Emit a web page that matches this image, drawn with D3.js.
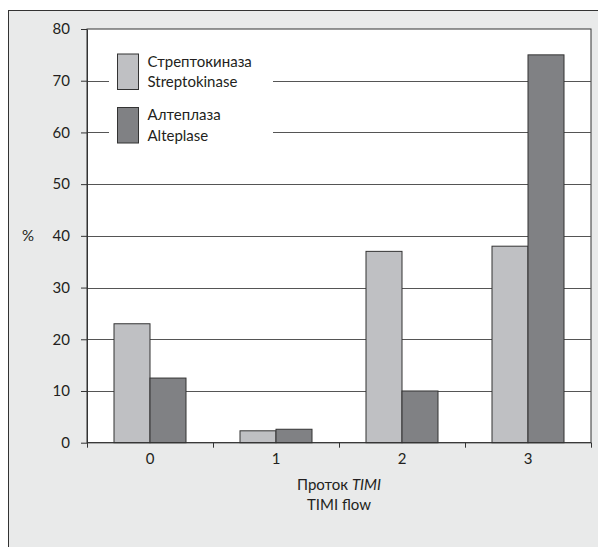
<!DOCTYPE html>
<html>
<head>
<meta charset="utf-8">
<script src="https://cdn.jsdelivr.net/npm/d3@7"></script>
<style>
  body { margin: 0; padding: 0; background: #fff; }
  svg { display: block; }
  text { font-family: Lato, "Open Sans", sans-serif; fill: #231f20; }
</style>
</head>
<body>
<svg id="chart" width="598" height="547"></svg>
<script>
const categories = ["0", "1", "2", "3"];
const seriesNames = ["Стрептокиназа|Streptokinase", "Алтеплаза|Alteplase"];
const streptokinase = [23, 2.3, 37, 38];
const alteplase = [12.5, 2.6, 10, 75];
const yTicks = [0, 10, 20, 30, 40, 50, 60, 70, 80];

const colors = ["#bfc0c3", "#808184"];
const FONT = 'Lato, "Open Sans", sans-serif';
const FS = 15;
const svg = d3.select("#chart");

// outer frame
svg.append("rect").attr("x", 8.5).attr("y", 10.5).attr("width", 620).attr("height", 560)
  .attr("fill", "#e9eaea").attr("stroke", "#333").attr("stroke-width", 1);

const L = 87, R = 591, T = 29, B = 442.7;
svg.append("rect").attr("x", L).attr("y", T).attr("width", R - L).attr("height", B - T)
  .attr("fill", "#fff").attr("stroke", "#333").attr("stroke-width", 1);

const x = d3.scaleBand().domain(categories).range([L, R]).paddingInner(0).paddingOuter(0);
const y = d3.scaleLinear().domain([0, 80]).range([B, T]);
const sub = d3.scaleBand().domain([0, 1]).range([0, 72]);

// gridlines
svg.append("g").selectAll("line").data(yTicks.filter(d => d > 0 && d < 80)).join("line")
  .attr("x1", L).attr("x2", R).attr("y1", d => Math.round(y(d)) + 0.5).attr("y2", d => Math.round(y(d)) + 0.5)
  .attr("stroke", "#555").attr("stroke-width", 1);

// legend background
svg.append("rect").attr("x", 109).attr("y", 45).attr("width", 164).attr("height", 108).attr("fill", "#fff");

// bars
const data = categories.map((c, i) => ({ c, vals: [streptokinase[i], alteplase[i]] }));
const g = svg.append("g");
data.forEach(d => {
  d.vals.forEach((v, j) => {
    g.append("rect")
      .attr("x", x(d.c) + x.bandwidth() / 2 - 36 + sub(j))
      .attr("y", y(v))
      .attr("width", sub.bandwidth())
      .attr("height", y(0) - y(v))
      .attr("fill", colors[j]).attr("stroke", "#333").attr("stroke-width", 1);
  });
});

// y axis
const yAxis = d3.axisLeft(y).tickValues(yTicks).tickSize(6).tickPadding(11).tickSizeOuter(0);
const ya = svg.append("g").attr("transform", `translate(${L},0)`).call(yAxis);
ya.select(".domain").attr("stroke", "#333");
ya.selectAll(".tick line").attr("stroke", "#333");
ya.selectAll(".tick text").attr("font-size", FS).attr("font-family", FONT).attr("fill", "#231f20");

// x axis
const xa = svg.append("g").attr("transform", `translate(0,${B})`);
xa.append("line").attr("x1", L).attr("x2", R).attr("y1", 0).attr("y2", 0).attr("stroke", "#333");
const bounds = [...categories.map(c => x(c)), R];
xa.selectAll("line.tk").data(bounds).join("line").attr("class", "tk")
  .attr("x1", d => Math.round(d) + 0.5).attr("x2", d => Math.round(d) + 0.5).attr("y1", 0).attr("y2", 5).attr("stroke", "#333");
xa.selectAll("text").data(categories).join("text")
  .attr("x", d => x(d) + x.bandwidth() / 2).attr("y", 21)
  .attr("text-anchor", "middle").attr("font-size", FS).text(d => d);

// axis titles
svg.append("text").attr("x", 28).attr("y", 241).attr("text-anchor", "middle").attr("font-size", FS).text("%");
const t1 = svg.append("text").attr("x", 339).attr("y", 490).attr("text-anchor", "middle").attr("font-size", FS);
t1.append("tspan").text("Проток ");
t1.append("tspan").attr("font-style", "italic").text("TIMI");
svg.append("text").attr("x", 339).attr("y", 510).attr("text-anchor", "middle").attr("font-size", FS).text("TIMI flow");

// legend
seriesNames.forEach((n, i) => {
  const yy = 54 + i * 53.5;
  svg.append("rect").attr("x", 117.5).attr("y", yy).attr("width", 21).attr("height", 35.5)
    .attr("fill", colors[i]).attr("stroke", "#333").attr("stroke-width", 1);
  const parts = n.split("|");
  svg.append("text").attr("x", 147.5).attr("y", yy + 12.5).attr("font-size", FS).text(parts[0]);
  svg.append("text").attr("x", 147.5).attr("y", yy + 33).attr("font-size", FS).text(parts[1]);
});
</script>
</body>
</html>
